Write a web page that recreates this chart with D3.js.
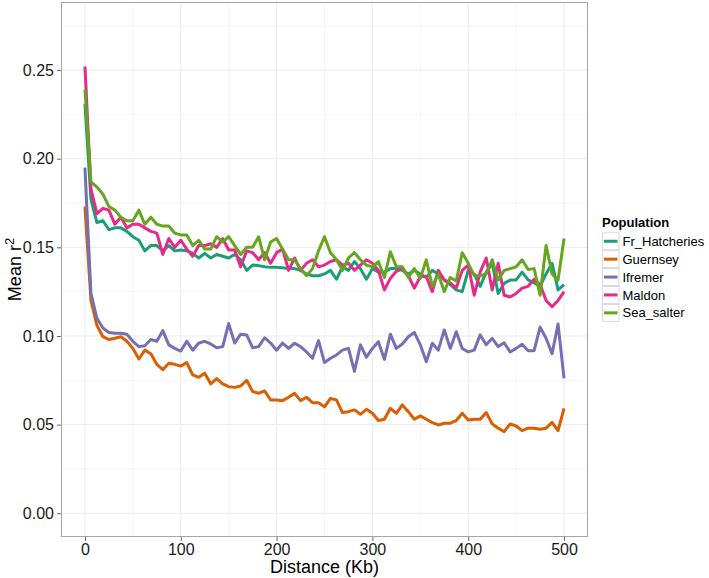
<!DOCTYPE html>
<html>
<head>
<meta charset="utf-8">
<script src="https://cdn.jsdelivr.net/npm/d3@7"></script>
<style>
  html, body { margin: 0; padding: 0; background: #fff; }
  svg { display: block; font-family: "Liberation Sans", Arial, sans-serif; }
</style>
</head>
<body>
<svg id="chart" width="709" height="578"></svg>
<script>
const distances = [0, 6.25, 12.5, 18.75, 25, 31.25, 37.5, 43.75, 50, 56.25, 62.5, 68.75, 75, 81.25, 87.5, 93.75,
  100, 106.25, 112.5, 118.75, 125, 131.25, 137.5, 143.75, 150, 156.25, 162.5, 168.75, 175, 181.25, 187.5, 193.75,
  200, 206.25, 212.5, 218.75, 225, 231.25, 237.5, 243.75, 250, 256.25, 262.5, 268.75, 275, 281.25, 287.5, 293.75,
  300, 306.25, 312.5, 318.75, 325, 331.25, 337.5, 343.75, 350, 356.25, 362.5, 368.75, 375, 381.25, 387.5, 393.75,
  400, 406.25, 412.5, 418.75, 425, 431.25, 437.5, 443.75, 450, 456.25, 462.5, 468.75, 475, 481.25, 487.5, 493.75, 500];

const populations = ["Fr_Hatcheries", "Guernsey", "Ifremer", "Maldon", "Sea_salter"];
const colors = ["#1B9E77", "#D95F02", "#7570B3", "#E7298A", "#66A61E"];

const frHatcheries = [0.231, 0.177, 0.164, 0.165, 0.160, 0.161, 0.161, 0.159, 0.156, 0.154, 0.148, 0.151, 0.151, 0.148, 0.151, 0.148,
  0.1485, 0.148, 0.1466, 0.144, 0.1466, 0.144, 0.146, 0.145, 0.144, 0.146, 0.143, 0.137, 0.140, 0.1397, 0.139, 0.1387,
  0.1387, 0.1385, 0.138, 0.138, 0.137, 0.135, 0.134, 0.134, 0.135, 0.137, 0.132, 0.139, 0.137, 0.142, 0.138, 0.132,
  0.138, 0.136, 0.136, 0.138, 0.138, 0.137, 0.135, 0.137, 0.135, 0.133, 0.137, 0.135, 0.1316, 0.129, 0.126, 0.125,
  0.137, 0.135, 0.128, 0.136, 0.141, 0.124, 0.1297, 0.1316, 0.1316, 0.136, 0.1316, 0.130, 0.128, 0.135, 0.141, 0.126, 0.129];

const guernsey = [0.173, 0.120, 0.106, 0.0996, 0.098, 0.0987, 0.0996, 0.097, 0.093, 0.087, 0.092, 0.090, 0.084, 0.081, 0.0846, 0.084,
  0.083, 0.085, 0.078, 0.0767, 0.079, 0.073, 0.076, 0.073, 0.0714, 0.071, 0.0718, 0.075, 0.0686, 0.0677, 0.069, 0.0639,
  0.0639, 0.0635, 0.0654, 0.0677, 0.0635, 0.0654, 0.0624, 0.0624, 0.060, 0.0648, 0.0639, 0.0568, 0.0573, 0.0583, 0.0558, 0.0586,
  0.0564, 0.0523, 0.053, 0.0592, 0.0564, 0.0611, 0.0573, 0.053, 0.0549, 0.053, 0.0511, 0.0498, 0.0508, 0.0508, 0.0523, 0.0564,
  0.0526, 0.053, 0.053, 0.0568, 0.0504, 0.048, 0.046, 0.0504, 0.0492, 0.0466, 0.048, 0.048, 0.0474, 0.048, 0.0513, 0.0466, 0.0592];

const ifremer = [0.195, 0.124, 0.110, 0.1045, 0.102, 0.1015, 0.1015, 0.101, 0.097, 0.094, 0.0945, 0.098, 0.097, 0.103, 0.095, 0.093,
  0.0915, 0.097, 0.092, 0.096, 0.097, 0.0955, 0.0934, 0.094, 0.107, 0.096, 0.101, 0.1006, 0.0934, 0.094, 0.099, 0.096,
  0.092, 0.096, 0.093, 0.0959, 0.094, 0.091, 0.0874, 0.0974, 0.085, 0.0874, 0.0893, 0.092, 0.093, 0.080, 0.095, 0.088,
  0.093, 0.0968, 0.0868, 0.101, 0.093, 0.0955, 0.0996, 0.102, 0.095, 0.0855, 0.0959, 0.092, 0.1034, 0.093, 0.1024, 0.093,
  0.091, 0.092, 0.1006, 0.095, 0.0987, 0.094, 0.0962, 0.091, 0.093, 0.0953, 0.0917, 0.0917, 0.105, 0.0987, 0.090, 0.1068, 0.0761];

const maldon = [0.252, 0.183, 0.169, 0.172, 0.171, 0.163, 0.167, 0.161, 0.163, 0.163, 0.161, 0.159, 0.158, 0.146, 0.155, 0.150,
  0.154, 0.149, 0.145, 0.151, 0.151, 0.152, 0.150, 0.155, 0.1485, 0.1485, 0.139, 0.148, 0.147, 0.143, 0.147, 0.141,
  0.147, 0.149, 0.137, 0.144, 0.137, 0.141, 0.143, 0.139, 0.140, 0.142, 0.143, 0.140, 0.141, 0.137, 0.140, 0.143,
  0.141, 0.137, 0.126, 0.1325, 0.1365, 0.138, 0.134, 0.127, 0.1335, 0.1335, 0.125, 0.137, 0.1316, 0.130, 0.127, 0.137,
  0.140, 0.123, 0.136, 0.144, 0.126, 0.141, 0.123, 0.122, 0.124, 0.127, 0.128, 0.132, 0.129, 0.120, 0.1165, 0.120, 0.125];

const seaSalter = [0.239, 0.187, 0.184, 0.180, 0.173, 0.171, 0.167, 0.165, 0.165, 0.171, 0.163, 0.167, 0.163, 0.162, 0.162, 0.158,
  0.157, 0.157, 0.151, 0.154, 0.149, 0.149, 0.156, 0.153, 0.156, 0.151, 0.146, 0.150, 0.150, 0.156, 0.143, 0.153,
  0.155, 0.149, 0.143, 0.143, 0.138, 0.134, 0.138, 0.148, 0.156, 0.147, 0.143, 0.137, 0.144, 0.147, 0.143, 0.140,
  0.139, 0.142, 0.133, 0.1475, 0.139, 0.139, 0.133, 0.138, 0.1325, 0.143, 0.128, 0.135, 0.125, 0.133, 0.131, 0.147,
  0.141, 0.134, 0.134, 0.135, 0.143, 0.1315, 0.137, 0.138, 0.139, 0.143, 0.1375, 0.138, 0.123, 0.151, 0.135, 0.1315, 0.155];

const seriesValues = [frHatcheries, guernsey, ifremer, maldon, seaSalter];

const xTicks = [0, 100, 200, 300, 400, 500];
const xMinor = [50, 150, 250, 350, 450];
const yTicks = [0.00, 0.05, 0.10, 0.15, 0.20, 0.25];
const yMinor = [0.025, 0.075, 0.125, 0.175, 0.225, 0.275];

const xTitle = "Distance (Kb)";
const legendTitle = "Population";

const panel = { left: 61, right: 588, top: 2, bottom: 537 };

const svg = d3.select("#chart");

const x = d3.scaleLinear().domain([-25, 525]).range([panel.left, panel.right]);
const y = d3.scaleLinear().domain([-0.0134, 0.2884]).range([panel.bottom, panel.top]);

svg.append("rect")
  .attr("x", panel.left).attr("y", panel.top)
  .attr("width", panel.right - panel.left).attr("height", panel.bottom - panel.top)
  .attr("fill", "#fff");

const grid = svg.append("g");
grid.selectAll("line.xm").data(xMinor).join("line")
  .attr("x1", d => x(d)).attr("x2", d => x(d))
  .attr("y1", panel.top).attr("y2", panel.bottom)
  .attr("stroke", "#f5f5f5").attr("stroke-width", 1);
grid.selectAll("line.ym").data(yMinor).join("line")
  .attr("y1", d => y(d)).attr("y2", d => y(d))
  .attr("x1", panel.left).attr("x2", panel.right)
  .attr("stroke", "#f5f5f5").attr("stroke-width", 1);
grid.selectAll("line.xM").data(xTicks).join("line")
  .attr("x1", d => x(d)).attr("x2", d => x(d))
  .attr("y1", panel.top).attr("y2", panel.bottom)
  .attr("stroke", "#ebebeb").attr("stroke-width", 1);
grid.selectAll("line.yM").data(yTicks).join("line")
  .attr("y1", d => y(d)).attr("y2", d => y(d))
  .attr("x1", panel.left).attr("x2", panel.right)
  .attr("stroke", "#ebebeb").attr("stroke-width", 1);

const line = d3.line()
  .x((d, i) => x(distances[i]))
  .y(d => y(d));

svg.append("g").selectAll("path").data(seriesValues).join("path")
  .attr("d", d => line(d))
  .attr("fill", "none")
  .attr("stroke", (d, i) => colors[i])
  .attr("stroke-width", 3)
  .attr("stroke-linejoin", "round");

svg.append("rect")
  .attr("x", panel.left + 0.5).attr("y", panel.top + 0.5)
  .attr("width", panel.right - panel.left - 1).attr("height", panel.bottom - panel.top - 1)
  .attr("fill", "none").attr("stroke", "#a6a6a6").attr("stroke-width", 1);

const xAxis = d3.axisBottom(x).tickValues(xTicks).tickSize(4).tickPadding(3).tickFormat(d3.format("d"));
const gx = svg.append("g").attr("transform", `translate(0,${panel.bottom})`).call(xAxis);
gx.select(".domain").remove();
gx.selectAll(".tick line").attr("stroke", "#666");
gx.selectAll(".tick text").attr("fill", "#1a1a1a").attr("font-size", 16)
  .attr("font-family", "Liberation Sans, Arial, sans-serif");

const yAxis = d3.axisLeft(y).tickValues(yTicks).tickSize(4).tickPadding(3).tickFormat(d3.format(".2f"));
const gy = svg.append("g").attr("transform", `translate(${panel.left},0)`).call(yAxis);
gy.select(".domain").remove();
gy.selectAll(".tick line").attr("stroke", "#666");
gy.selectAll(".tick text").attr("fill", "#1a1a1a").attr("font-size", 16)
  .attr("font-family", "Liberation Sans, Arial, sans-serif");

svg.append("text")
  .attr("x", (panel.left + panel.right) / 2).attr("y", 573)
  .attr("text-anchor", "middle").attr("font-size", 18).attr("fill", "#000")
  .text(xTitle);

const yt = svg.append("text")
  .attr("transform", `translate(21,${(panel.top + panel.bottom) / 2}) rotate(-90)`)
  .attr("text-anchor", "middle").attr("font-size", 18).attr("fill", "#000");
yt.append("tspan").text("Mean r");
yt.append("tspan").attr("font-size", 13).attr("dy", -7).text("2");

const legend = svg.append("g");
legend.append("text")
  .attr("x", 602).attr("y", 227)
  .attr("font-size", 13).attr("font-weight", "bold").attr("fill", "#000")
  .text(legendTitle);

const keyH = 17.9, keyTop = 232.3, keyX = 602, keyW = 17.5;
const rows = legend.selectAll("g.row").data(populations).join("g")
  .attr("transform", (d, i) => `translate(0,${keyTop + i * keyH})`);
rows.append("rect")
  .attr("x", keyX + 0.5).attr("y", 0.5)
  .attr("width", keyW - 1).attr("height", keyH - 1)
  .attr("fill", "#fff").attr("stroke", "#d9d9d9").attr("stroke-width", 1);
rows.append("line")
  .attr("x1", keyX + 2).attr("x2", keyX + keyW - 2)
  .attr("y1", keyH / 2).attr("y2", keyH / 2)
  .attr("stroke", (d, i) => colors[i]).attr("stroke-width", 3);
rows.append("text")
  .attr("x", keyX + keyW + 3).attr("y", keyH / 2 + 4.6)
  .attr("font-size", 13).attr("fill", "#000")
  .text(d => d);
</script>
</body>
</html>
